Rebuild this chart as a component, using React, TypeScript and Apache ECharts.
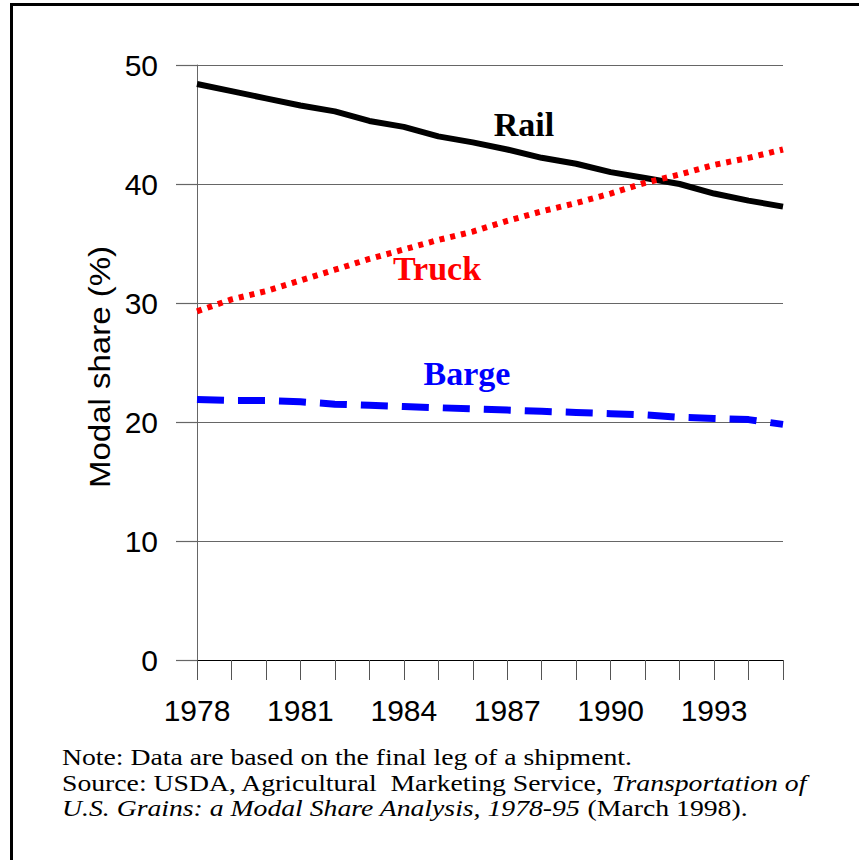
import React, { useEffect, useRef } from "react";
import * as echarts from "echarts";

const years = ["1978","1979","1980","1981","1982","1983","1984","1985","1986","1987","1988","1989","1990","1991","1992","1993","1994","1995"];
const rail = [48.4, 47.8, 47.2, 46.6, 46.1, 45.3, 44.8, 44.0, 43.5, 42.9, 42.2, 41.7, 41.0, 40.5, 40.0, 39.2, 38.6, 38.1];
const truck = [29.3, 30.3, 31.0, 31.9, 32.8, 33.7, 34.5, 35.3, 36.0, 36.9, 37.7, 38.4, 39.2, 40.1, 40.8, 41.6, 42.2, 42.9];
const barge = [21.9, 21.8, 21.8, 21.7, 21.5, 21.4, 21.3, 21.2, 21.1, 21.0, 20.9, 20.8, 20.7, 20.6, 20.4, 20.3, 20.2, 19.8];
const yTicks = { min: 0, max: 50, interval: 10 };
const yName = "Modal share (%)";
const seriesNames = ["Rail", "Truck", "Barge"];
const noteLine1 = "Note: Data are based on the final leg of a shipment.";
const noteLine2a = "Source: USDA, Agricultural  Marketing Service, ";
const noteLine2b = "Transportation of";
const noteLine3a = "U.S. Grains: a Modal Share Analysis, 1978-95";
const noteLine3b = " (March 1998).";

const sans = "Liberation Sans, Arial, sans-serif";
const serif = "Liberation Serif, Times New Roman, serif";

export default function App() {
  const ref = useRef<HTMLDivElement>(null);
  useEffect(() => {
    if (!ref.current) return;
    const chart = echarts.init(ref.current, null, { renderer: "svg" });
    const noteRich = {
      n: { fontSize: 24, fontFamily: serif, fill: "#000" },
      i: { fontSize: 24, fontFamily: serif, fontStyle: "italic", fill: "#000" },
    };
    const noteScale = 1.155;
    chart.setOption({
      animation: false,
      backgroundColor: "#fff",
      grid: { left: 197, right: 76, top: 65, bottom: 200 },
      xAxis: {
        type: "category",
        data: years,
        boundaryGap: false,
        axisLine: { show: true, lineStyle: { color: "#000", width: 1.2 } },
        axisTick: { show: true, interval: 0, length: 20, inside: false, lineStyle: { color: "#555", width: 1 } },
        axisLabel: { interval: 2, fontSize: 30, margin: 35, color: "#000", fontFamily: sans },
        splitLine: { show: false },
      },
      yAxis: {
        type: "value",
        min: yTicks.min,
        max: yTicks.max,
        interval: yTicks.interval,
        axisLine: { show: true, lineStyle: { color: "#666", width: 1 } },
        axisTick: { show: true, length: 21, inside: false, lineStyle: { color: "#666", width: 1.2 } },
        axisLabel: { fontSize: 30, margin: 39, color: "#000", fontFamily: sans },
        splitLine: { show: true, lineStyle: { color: "#666", width: 1.2 } },
      },
      series: [
        {
          name: seriesNames[2], type: "line", data: barge, symbol: "none", z: 3,
          lineStyle: { color: "#0000ff", width: 7, type: [27, 14], cap: "butt" },
        },
        {
          name: seriesNames[0], type: "line", data: rail, symbol: "none", z: 4,
          lineStyle: { color: "#000", width: 6 },
        },
        {
          name: seriesNames[1], type: "line", data: truck, symbol: "none", z: 5,
          lineStyle: { color: "#ff0000", width: 6, type: [5, 6], cap: "butt" },
        },
      ],
      graphic: [
        { type: "line", shape: { x1: 10, y1: 4.5, x2: 859, y2: 4.5 }, style: { stroke: "#000", lineWidth: 3 } },
        { type: "line", shape: { x1: 11.5, y1: 3, x2: 11.5, y2: 860 }, style: { stroke: "#000", lineWidth: 3 } },
        {
          type: "text", x: 100, y: 367, rotation: Math.PI / 2, scaleX: 1.1,
          style: { text: yName, font: `30px ${sans}`, fill: "#000", align: "center", verticalAlign: "middle" },
        },
        { type: "text", x: 524, y: 124, style: { text: seriesNames[0], font: `bold 34px ${serif}`, fill: "#000", align: "center", verticalAlign: "middle" } },
        { type: "text", x: 437, y: 268, style: { text: seriesNames[1], font: `bold 34px ${serif}`, fill: "#ff0000", align: "center", verticalAlign: "middle" } },
        { type: "text", x: 467, y: 373, style: { text: seriesNames[2], font: `bold 34px ${serif}`, fill: "#0000ff", align: "center", verticalAlign: "middle" } },
        { type: "text", x: 62, y: 757, scaleX: noteScale, style: { text: noteLine1, font: `24px ${serif}`, fill: "#000", verticalAlign: "middle" } },
        {
          type: "text", x: 62, y: 783, scaleX: noteScale,
          style: { text: `{n|${noteLine2a}}{i|${noteLine2b}}`, verticalAlign: "middle", rich: noteRich },
        },
        {
          type: "text", x: 62, y: 808, scaleX: noteScale,
          style: { text: `{i|${noteLine3a}}{n|${noteLine3b}}`, verticalAlign: "middle", rich: noteRich },
        },
      ],
    });
    return () => chart.dispose();
  }, []);
  return <div ref={ref} style={{ position: "fixed", left: 0, top: 0, width: 859, height: 860 }} />;
}
